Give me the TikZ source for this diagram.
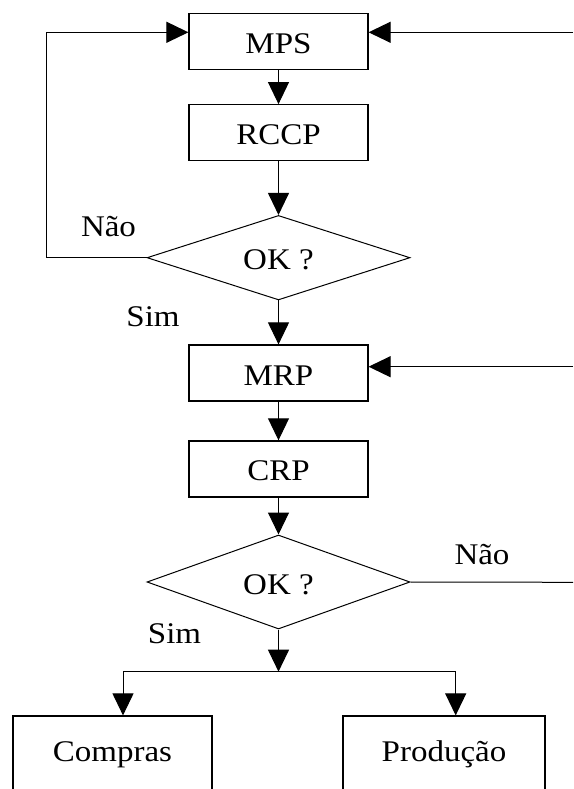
\documentclass[tikz,border=0pt]{standalone}
\usepackage{fontspec}
\setmainfont{Liberation Serif}[FakeStretch=1.1]
\usetikzlibrary{arrows.meta,shapes.geometric,calc}

\begin{document}
\begin{tikzpicture}[x=1pt,y=-1pt,
  font=\fontsize{30}{36}\selectfont,
  every node/.style={text height=24pt, text depth=0pt},
  box/.style={draw, line width=1.2pt, minimum width=179pt, minimum height=56pt, inner sep=0pt},
  outbox/.style={draw, line width=1.2pt, minimum height=90pt, inner sep=0pt},
  decision/.style={draw, diamond, line width=1pt, minimum width=263pt, inner sep=0pt, aspect=3},
  arr/.style={-{Triangle[length=22pt,width=21pt]}, line width=1pt},
  link/.style={line width=1pt},
  lbl/.style={inner sep=0pt}]
\useasboundingbox (0,0) rectangle (573,789);

% main column
\node[box] (mps)  at (278.5,41.3)  {MPS};
\node[box] (rccp) at (278.5,132.7) {RCCP};
\node[decision, minimum height=84.5pt] (ok1) at (278.5,257.7) {OK ?};
\node[box] (mrp)  at (278.5,373)   {MRP};
\node[box] (crp)  at (278.5,468.9) {CRP};
\node[decision, minimum height=94pt] (ok2) at (278.5,582) {OK ?};

% output boxes (open at the bottom of the page)
\node[outbox, minimum width=199pt] (compras)  at (112.5,761) {};
\node[outbox, minimum width=202pt] (producao) at (444,761)   {};
\node[lbl] (comprastxt)  at ($(compras.north)+(0,33.7)$)  {Compras};
\node[lbl] (producaotxt) at ($(producao.north)+(0,33.7)$) {Produção};

% helper points
\coordinate (mpsin)  at (573,32.3);
\coordinate (mrpin)  at (573,366.7);
\coordinate (loopx)  at (46.7,32.3);
\coordinate (split)  at (278.5,671.7);
\coordinate (splitl) at (123,671.7);
\coordinate (splitr) at (455.7,671.7);
\coordinate (noout)  at (573,582.3);

% vertical flow
\draw[arr] (mps) -- (rccp);
\draw[arr] (rccp) -- (ok1);
\draw[arr] (ok1) -- (mrp);
\draw[arr] (mrp) -- (crp);
\draw[arr] (crp) -- (ok2);
\draw[arr] (ok2) -- (split);
\draw[link] (splitl) -- (splitr);
\draw[arr] (splitl) -- (splitl |- compras.north);
\draw[arr] (splitr) -- (splitr |- producao.north);

% feedback loops
\draw[arr] (ok1.west) -| (loopx) -- (loopx -| mps.west);
\draw[arr] (mpsin) -- (mpsin -| mps.east);
\draw[arr] (mrpin) -- (mrpin -| mrp.east);
\draw[link] (ok2.east) -- (noout);

% branch labels
\node[lbl] (nao1) at (108.5,224.7) {Não};
\node[lbl] (sim1) at (153,314.7)   {Sim};
\node[lbl] (nao2) at (482,552.3)   {Não};
\node[lbl] (sim2) at (174.5,631)   {Sim};
\end{tikzpicture}
\end{document}
